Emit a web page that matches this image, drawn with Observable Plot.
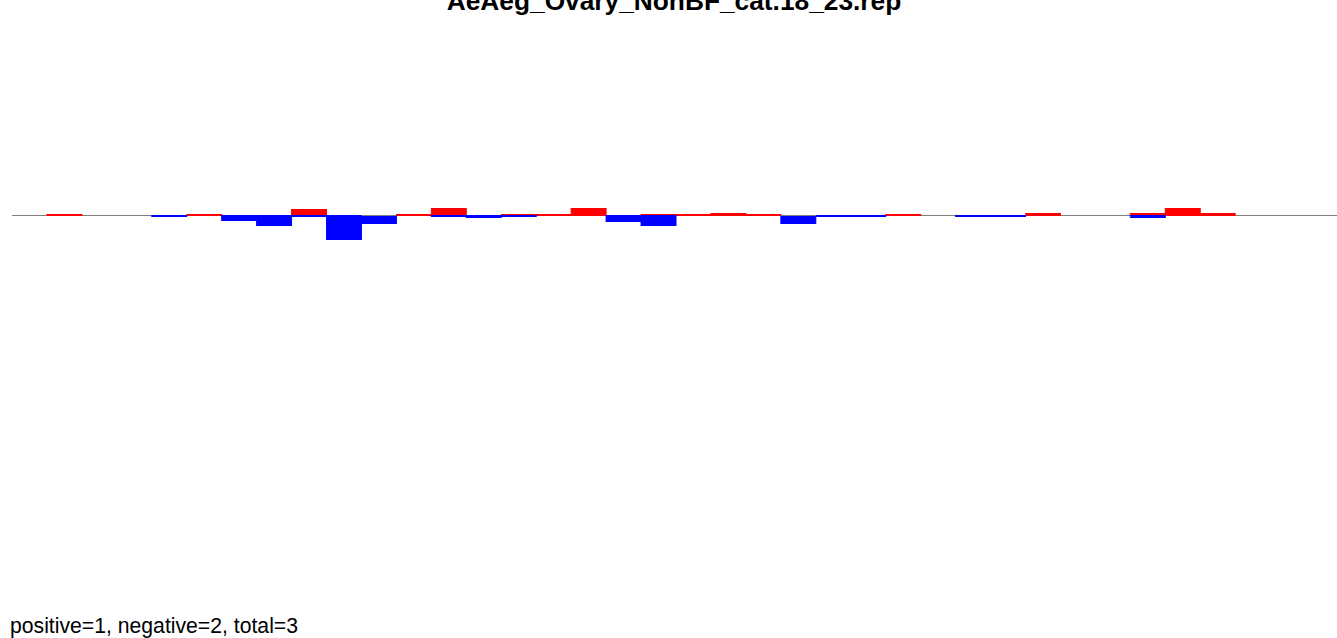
<!DOCTYPE html>
<html>
<head>
<meta charset="utf-8">
<script src="https://cdn.jsdelivr.net/npm/d3@7"></script>
<script src="https://cdn.jsdelivr.net/npm/@observablehq/plot@0.6"></script>
<style>
  html, body { margin: 0; padding: 0; background: #fff; overflow: hidden; width: 1337px; height: 638px; }
  #wrap { position: relative; width: 1337px; height: 638px; overflow: hidden; }
  #title { position: absolute; top: -12px; left: 674px; transform: translateX(-50%); white-space: nowrap;
           font-family: "Liberation Sans", Arial, sans-serif; font-weight: bold; font-size: 26.3px; line-height: 26.3px; color: #000; }
  #caption { position: absolute; top: 615px; left: 10px; white-space: nowrap;
           font-family: "Liberation Sans", Arial, sans-serif; font-size: 21.2px; line-height: 21.2px; color: #000; }
  #chart { position: absolute; top: 0; left: 0; width: 1340px; }
  #chart svg { max-width: none !important; }
</style>
</head>
<body>
<div id="wrap">
  <div id="chart"></div>
  <div id="title"></div>
  <div id="caption"></div>
</div>
<script>
const titleText = "AeAeg_Ovary_NonBF_cat.18_23.rep";
const captionText = "positive=1, negative=2, total=3";
// one value per bin (38 bins)
const positive = [0,1,0,0,0,1,0,0,6,0,0,1,7,0,1,1,7,0,1,1,2,1,0,0,0,1,0,0,0,2,0,0,2,7,2,0,0,0];
const negative = [0,0,0,0,1,0,5,10,1,24,8,0,1,2,1,0,0,6,10,0,0,0,8,1,1,0,0,1,1,0,0,0,2,0,0,0,0,0];
const neutralBins = [10, 22];

const nBins = positive.length;
const rows = positive.map((p, i) => ({bin: i, pos: p, neg: negative[i]}));

const chart = Plot.plot({
  width: 1340,
  height: 638,
  marginTop: 0,
  marginBottom: 0,
  marginLeft: 12,
  marginRight: 0,
  style: {maxWidth: "none"},
  x: {domain: [0, nBins], axis: null},
  y: {domain: [-422.5, 215.5], axis: null},
  marks: [
    Plot.ruleY([0], {stroke: "#808080", strokeWidth: 1, dy: -0.5}),
    Plot.rectY(rows.filter(d => d.pos > 0), {x1: d => d.bin, x2: d => d.bin + 1, y: d => d.pos, fill: "#ff0000", stroke: "#ff0000", strokeWidth: 1}),
    Plot.rectY(rows.filter(d => d.neg > 0), {x1: d => d.bin, x2: d => d.bin + 1, y: d => -d.neg, fill: "#0000ff", stroke: "#0000ff", strokeWidth: 1}),
    Plot.ruleY(neutralBins, {x1: d => d, x2: d => d + 1, y: 0, stroke: "#808080", strokeWidth: 1, dy: -0.5})
  ]
});
document.getElementById("chart").appendChild(chart);
document.getElementById("title").textContent = titleText;
document.getElementById("caption").textContent = captionText;
</script>
</body>
</html>
